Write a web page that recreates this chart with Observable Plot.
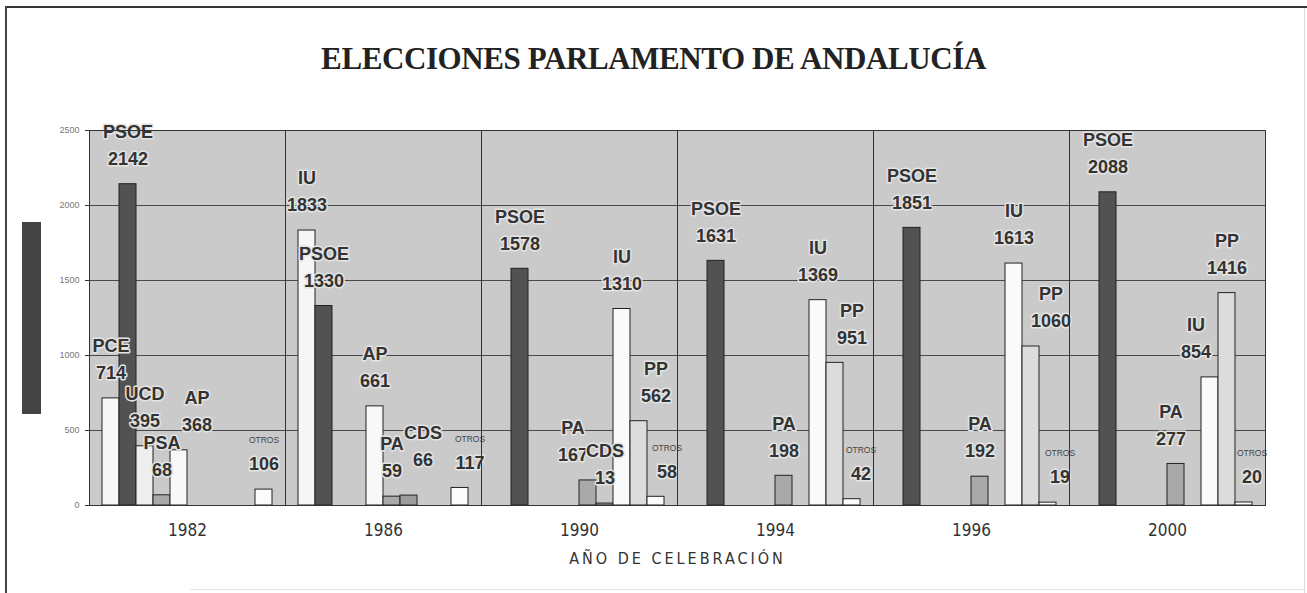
<!DOCTYPE html>
<html>
<head>
<meta charset="utf-8">
<script src="https://cdn.jsdelivr.net/npm/d3@7"></script>
<script src="https://cdn.jsdelivr.net/npm/@observablehq/plot@0.6"></script>
<style>
  html, body { margin: 0; padding: 0; background: #fff; }
  #wrap { position: relative; width: 1307px; height: 593px; overflow: hidden; background: #fff; }
  #topline { position: absolute; left: 5px; top: 6px; width: 1302px; height: 2px; background: #333; }
  #leftline { position: absolute; left: 5px; top: 6px; width: 2px; height: 587px; background: #444; }
  #rightline { position: absolute; left: 1304px; top: 8px; width: 1px; height: 585px; background: #ddd; }
  #bottomline { position: absolute; left: 190px; top: 589px; width: 1114px; height: 1px; background: #e4e4e4; }
  #title { position: absolute; left: 0; top: 41px; width: 1307px; text-align: center;
           font-family: "Liberation Serif", "Times New Roman", serif; font-weight: bold;
           font-size: 31px; color: #222; letter-spacing: -0.4px; }
  #swatch { position: absolute; left: 22px; top: 222px; width: 19px; height: 192px; background: #444; }
  #chart { position: absolute; left: 0; top: 100px; }
  g[aria-label="fx-axis label"] text { letter-spacing: 3px; }
</style>
</head>
<body>
<div id="wrap">
  <div id="topline"></div>
  <div id="leftline"></div>
  <div id="rightline"></div>
  <div id="bottomline"></div>
  <div id="title">ELECCIONES PARLAMENTO DE ANDALUCÍA</div>
  <div id="swatch"></div>
  <div id="chart"></div>
</div>
<script>
// Election years (groups)
const years = ["1982", "1986", "1990", "1994", "1996", "2000"];
// Series slots within each group (Excel-style clustered series)
const seriesKeys = ["PCE", "PSOE", "UCD", "PSA", "AP", "PA", "CDS", "IU", "PP", "OTROS"];
// Label shown for the first slot in each year
const slot0Names = ["PCE", "IU", null, null, null, null];
// Values per series, one per year (null = no bar)
const pceValues   = [714, 1833, null, null, null, null];
const psoeValues  = [2142, 1330, 1578, 1631, 1851, 2088];
const ucdValues   = [395, null, null, null, null, null];
const psaValues   = [68, null, null, null, null, null];
const apValues    = [368, 661, null, null, null, null];
const paValues    = [null, 59, 167, 198, 192, 277];
const cdsValues   = [null, 66, 13, null, null, null];
const iuValues    = [null, null, 1310, 1369, 1613, 854];
const ppValues    = [null, null, 562, 951, 1060, 1416];
const otrosValues = [106, 117, 58, 42, 19, 20];
const yTicks = [0, 500, 1000, 1500, 2000, 2500];

const seriesValues = [pceValues, psoeValues, ucdValues, psaValues, apValues,
                      paValues, cdsValues, iuValues, ppValues, otrosValues];
const seriesColors = ["#f6f6f6", "#525252", "#eeeeee", "#aaaaaa", "#f8f8f8",
                      "#a9a9a9", "#9d9d9d", "#fafafa", "#dcdcdc", "#fbfbfb"];

// label nudges (text offsets only, as in the original layout)
const labelNudge = {
  "1982 AP": [18, 0],
  "1986 CDS": [14, -10], "1986 OTROS": [10, 0],
  "1990 PA": [-15, 0], "1990 PP": [17, 0], "1990 OTROS": [11, 0],
  "1994 PP": [17, 0], "1994 OTROS": [9, 0],
  "1996 PP": [20, 0], "1996 OTROS": [12, 0],
  "2000 PA": [-5, 0], "2000 IU": [-14, 0], "2000 OTROS": [8, 0]
};

const rows = [];
seriesKeys.forEach((s, si) => {
  years.forEach((yr, yi) => {
    const v = seriesValues[si][yi];
    if (v == null) return;
    const name = si === 0 ? slot0Names[yi] : s;
    const [ndx, ndy] = labelNudge[yr + " " + s] || [0, 0];
    rows.push({year: yr, series: s, value: v, name, small: s === "OTROS", ndx, ndy});
  });
});

const labelStyle = {fontSize: 18, fontWeight: "bold", fill: "#333", stroke: "#e4e4e4", strokeWidth: 3, paintOrder: "stroke"};
const numberMarks = [];
const nameMarks = [];
// group labels by nudge so each text mark keeps constant dx/dy
const groups = d3.group(rows, d => d.ndx + "," + d.ndy);
for (const [, g] of groups) {
  const dx = g[0].ndx, ndy = g[0].ndy;
  numberMarks.push(Plot.text(g, {fx: "year", x: "series", y: "value", text: d => String(d.value),
                                 dx, dy: -25 + ndy, ...labelStyle}));
  const big = g.filter(d => !d.small), small = g.filter(d => d.small);
  if (big.length) nameMarks.push(Plot.text(big, {fx: "year", x: "series", y: "value", text: "name",
                                 dx, dy: -52 + ndy, ...labelStyle}));
  if (small.length) nameMarks.push(Plot.text(small, {fx: "year", x: "series", y: "value", text: "name",
                                 dx, dy: -49 + ndy, fontSize: 8.5, fill: "#444", letterSpacing: 2.5}));
}

const chart = Plot.plot({
  width: 1307,
  height: 480,
  marginLeft: 87,
  marginRight: 40,
  marginTop: 30,
  marginBottom: 75,
  style: {background: "transparent", fontFamily: "'Liberation Sans', Arial, sans-serif"},
  fx: {domain: years, padding: 0, paddingOuter: 0, label: "AÑO DE CELEBRACIÓN"},
  x: {domain: seriesKeys, paddingInner: 0, paddingOuter: 0.76, axis: null},
  y: {domain: [0, 2500], label: null},
  color: {domain: seriesKeys, range: seriesColors},
  marks: [
    Plot.frame({fill: "#cacaca", stroke: null}),
    Plot.gridY(yTicks, {stroke: "#333", strokeOpacity: 0.85, strokeWidth: 1}),
    Plot.barY(rows, {fx: "year", x: "series", y: "value", fill: "series", stroke: "#222", strokeWidth: 1, inset: 0}),
    ...numberMarks,
    ...nameMarks,
    Plot.frame({stroke: "#333", strokeWidth: 1}),
    Plot.axisY(yTicks, {tickSize: 4, tickPadding: 6, fontSize: 9, color: "#777", stroke: "#333",
                        tickFormat: d => String(d)}),
    Plot.axisFx({anchor: "bottom", tickSize: 0, tickPadding: 18, fontSize: 17, color: "#333",
                 fontFamily: "'Liberation Sans Narrow', 'DejaVu Sans Condensed', sans-serif",
                 label: "AÑO DE CELEBRACIÓN", labelAnchor: "center", labelOffset: 58})
  ]
});
document.getElementById("chart").appendChild(chart);
// axis title slightly smaller than year labels
const lab = chart.querySelector('g[aria-label="fx-axis label"] text');
if (lab) lab.setAttribute("font-size", "16");
</script>
</body>
</html>
